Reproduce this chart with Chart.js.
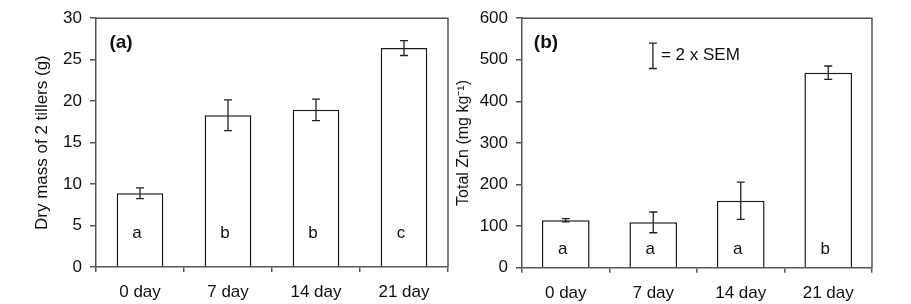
<!DOCTYPE html>
<html>
<head>
<meta charset="utf-8">
<script src="https://cdn.jsdelivr.net/npm/chart.js@4/dist/chart.umd.min.js"></script>
<style>
  html, body { margin: 0; padding: 0; background: #fff; width: 911px; height: 304px; overflow: hidden; }
  .panel { position: absolute; top: 0; }
</style>
</head>
<body>
<div class="panel" style="left:0px"><canvas id="ca" width="456" height="304"></canvas></div>
<div class="panel" style="left:454px"><canvas id="cb" width="457" height="304"></canvas></div>
<script>
const categories = ['0 day', '7 day', '14 day', '21 day'];

const dryMass = [8.9, 18.3, 18.95, 26.4];
const dryMassErr = [0.65, 1.85, 1.3, 0.9];
const dryMassLetters = ['a', 'b', 'b', 'c'];

const totalZn = [114, 109, 161, 469];
const totalZnErr = [4, 25, 45, 16];
const totalZnLetters = ['a', 'a', 'a', 'b'];

const semLegendLow = 479;
const semLegendHigh = 540;

const FONT = "'Liberation Sans', Arial, Helvetica, sans-serif";
const AXIS = '#555';
const INK = '#111';

const decorPlugin = {
  id: 'decor',
  afterDatasetsDraw(chart, args, opts) {
    const ctx = chart.ctx;
    const ca = chart.chartArea;
    const y = chart.scales.y;
    const meta = chart.getDatasetMeta(0);
    const vals = chart.data.datasets[0].data;
    ctx.save();
    // frame top/right
    ctx.strokeStyle = AXIS;
    ctx.lineWidth = 1.5;
    ctx.beginPath();
    ctx.moveTo(ca.left, ca.top);
    ctx.lineTo(ca.right, ca.top);
    ctx.lineTo(ca.right, ca.bottom);
    ctx.stroke();
    // error bars
    ctx.strokeStyle = '#222';
    ctx.lineWidth = 1.3;
    meta.data.forEach((bar, i) => {
      const e = opts.err[i];
      const yt = y.getPixelForValue(vals[i] + e);
      const yb = y.getPixelForValue(vals[i] - e);
      const x = bar.x;
      ctx.beginPath();
      ctx.moveTo(x, yt); ctx.lineTo(x, yb);
      ctx.moveTo(x - 4, yt); ctx.lineTo(x + 4, yt);
      ctx.moveTo(x - 4, yb); ctx.lineTo(x + 4, yb);
      ctx.stroke();
    });
    // letters
    ctx.fillStyle = INK;
    ctx.font = '17px ' + FONT;
    ctx.textAlign = 'center';
    ctx.textBaseline = 'middle';
    const ly = y.getPixelForValue(opts.letterLevel);
    meta.data.forEach((bar, i) => {
      ctx.fillText(opts.letters[i], bar.x - 3, ly);
    });
    // panel label
    ctx.font = 'bold 19px ' + FONT;
    ctx.fillText(opts.label, ca.left + opts.labelDx, ca.top + 25);
    // SEM legend
    if (opts.sem) {
      const lx = ca.left + (ca.right - ca.left) * 0.374;
      const y1 = y.getPixelForValue(semLegendHigh);
      const y2 = y.getPixelForValue(semLegendLow);
      ctx.strokeStyle = '#222';
      ctx.lineWidth = 1.3;
      ctx.beginPath();
      ctx.moveTo(lx, y1); ctx.lineTo(lx, y2);
      ctx.moveTo(lx - 4, y1); ctx.lineTo(lx + 4, y1);
      ctx.moveTo(lx - 4, y2); ctx.lineTo(lx + 4, y2);
      ctx.stroke();
      ctx.font = '17px ' + FONT;
      ctx.textAlign = 'left';
      ctx.fillText('= 2 x SEM', lx + 8, (y1 + y2) / 2 - 1);
    }
    ctx.restore();
  }
};

function makeChart(id, values, cfg) {
  return new Chart(document.getElementById(id), {
    type: 'bar',
    data: {
      labels: categories,
      datasets: [{
        data: values,
        backgroundColor: '#ffffff',
        borderColor: '#1a1a1a',
        borderWidth: 1.5,
        categoryPercentage: 1,
        barPercentage: cfg.barPct
      }]
    },
    options: {
      responsive: false,
      animation: false,
      layout: { autoPadding: false, padding: { left: 0, right: cfg.padRight, top: 10, bottom: 0 } },
      plugins: {
        legend: { display: false },
        tooltip: { enabled: false },
        decor: cfg.decor
      },
      scales: {
        x: {
          grid: { display: true, drawOnChartArea: false, offset: true, tickLength: 5, color: AXIS, lineWidth: 1.5 },
          border: { color: AXIS, width: 1.5 },
          ticks: { color: INK, font: { family: FONT, size: 17 }, padding: 10, maxRotation: 0 },
          afterFit(s) { s.height = 304 - 10 - cfg.plotH; }
        },
        y: {
          min: 0, max: cfg.max,
          grid: { display: true, drawOnChartArea: false, tickLength: 6, color: AXIS, lineWidth: 1.5 },
          border: { color: AXIS, width: 1.5 },
          ticks: { stepSize: cfg.step, color: INK, font: { family: FONT, size: 17 }, padding: 8 },
          title: { display: true, text: cfg.title, color: INK, font: { family: FONT, size: cfg.titleSize }, padding: { top: cfg.titlePad, bottom: 0 } },
          afterFit(s) { s.width = cfg.yWidth; }
        }
      }
    },
    plugins: [decorPlugin]
  });
}

makeChart('ca', dryMass, {
  barPct: 0.53, padRight: 8, plotH: 257, max: 30, step: 5,
  title: 'Dry mass of 2 tillers (g)', titleSize: 17, titlePad: 32, yWidth: 96,
  decor: { err: dryMassErr, letters: dryMassLetters, letterLevel: 4.1, label: '(a)', labelDx: 25, sem: false }
});

makeChart('cb', totalZn, {
  barPct: 0.545, padRight: 39, plotH: 257.7, max: 600, step: 100,
  title: 'Total Zn (mg kg\u207B\u00B9)', titleSize: 16, titlePad: 0, yWidth: 68,
  decor: { err: totalZnErr, letters: totalZnLetters, letterLevel: 43.5, label: '(b)', labelDx: 24, sem: true }
});
</script>
</body>
</html>
